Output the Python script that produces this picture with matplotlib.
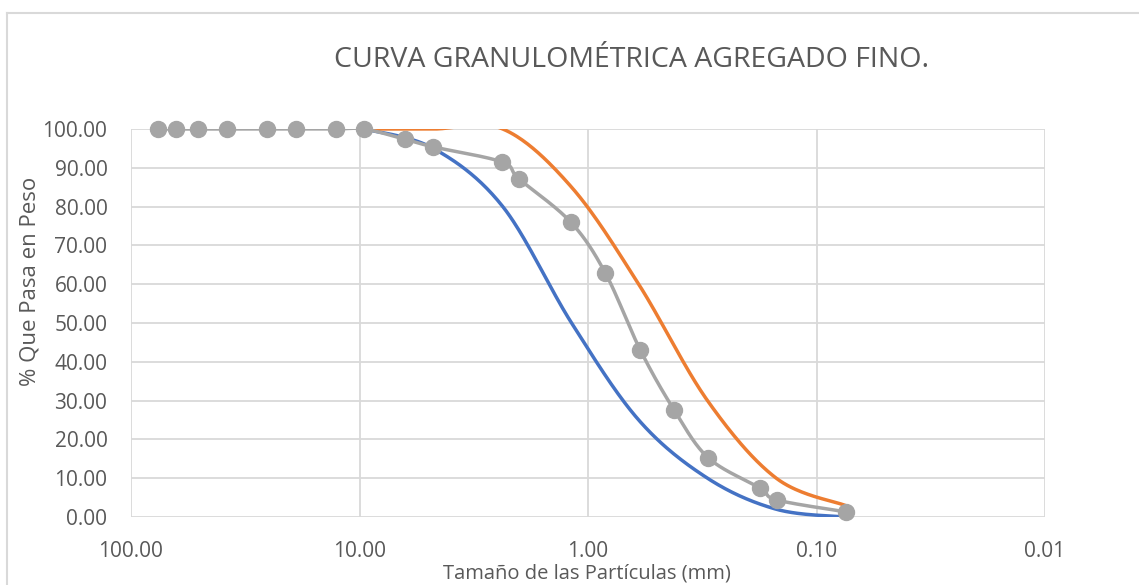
import matplotlib
matplotlib.use("Agg")
import matplotlib.pyplot as plt
from matplotlib.lines import Line2D
from matplotlib.ticker import FixedLocator, FuncFormatter, NullLocator
import numpy as np

# sieve openings (mm) and % passing for the sample
sizes = [76.2, 63.5, 50.8, 38.1, 25.4, 19.05, 12.7, 9.525, 6.35, 4.76,
         2.38, 2.0, 1.19, 0.84, 0.59, 0.42, 0.297, 0.177, 0.149, 0.074]
passing = [100, 100, 100, 100, 100, 100, 100, 100, 97.4, 95.4,
           91.5, 87.1, 76.0, 62.9, 43.0, 27.6, 15.2, 7.5, 4.4, 1.3]

# specification limits
lim_sizes = [9.5, 4.75, 2.36, 1.18, 0.6, 0.3, 0.15, 0.075]
lim_low = [100, 95, 80, 50, 25, 10, 2, 0]
lim_high = [100, 100, 100, 85, 60, 30, 10, 3]

xticks = [100, 10, 1, 0.1, 0.01]
yticks = [0, 10, 20, 30, 40, 50, 60, 70, 80, 90, 100]

FONT = ['Open Sans', 'DejaVu Sans']
TXT = '#595959'
GRID = '#d9d9d9'

PX_DEC = 229.0   # pixels per decade on x
PX_UNIT = 3.88   # pixels per % on y


def smooth(xs, ys, n=40):
    # excel-like smoothed line (bezier through points), done in screen space
    pts = np.column_stack([-np.log10(xs) * PX_DEC, np.asarray(ys, float) * PX_UNIT])
    P = np.vstack([pts[0], pts, pts[-1]])
    t = np.linspace(0, 1, n)[:, None]
    out = []
    for i in range(1, len(P) - 2):
        p0, p1, p2, p3 = P[i - 1], P[i], P[i + 1], P[i + 2]
        c1 = p1 + (p2 - p0) / 6
        c2 = p2 - (p3 - p1) / 6
        out.append((1 - t) ** 3 * p1 + 3 * (1 - t) ** 2 * t * c1
                   + 3 * (1 - t) * t ** 2 * c2 + t ** 3 * p2)
    out = np.vstack(out)
    return 10 ** (-out[:, 0] / PX_DEC), out[:, 1] / PX_UNIT


fig = plt.figure(figsize=(11.39, 5.85), dpi=100)
ax = fig.add_axes([131 / 1139, 1 - 517 / 585, (1045 - 131) / 1139, (517 - 129) / 585])

# chart area border
fig.add_artist(Line2D([7 / 1139, 1], [1 - 13 / 585] * 2, color=GRID, lw=1.5, transform=fig.transFigure))
fig.add_artist(Line2D([7 / 1139] * 2, [0, 1 - 13 / 585], color=GRID, lw=1.5, transform=fig.transFigure))

ax.set_xscale('log')
ax.set_xlim(100, 0.01)
ax.set_ylim(0, 100)

bx, by = smooth(lim_sizes, lim_low)
ax.plot(bx, by, color='#4472C4', lw=2.5, zorder=3)
ox, oy = smooth(lim_sizes, lim_high)
ax.plot(ox, oy, color='#ED7D31', lw=2.5, zorder=3)
gx, gy = smooth(sizes, passing)
ax.plot(gx, gy, color='#A5A5A5', lw=2.5, zorder=4)
ax.plot(sizes, passing, 'o', color='#A5A5A5', ms=11.5, clip_on=False, zorder=5)

ax.xaxis.set_major_locator(FixedLocator(xticks))
ax.xaxis.set_minor_locator(NullLocator())
ax.xaxis.set_major_formatter(FuncFormatter(lambda v, p: f'{v:.2f}'))
ax.yaxis.set_major_locator(FixedLocator(yticks))
ax.yaxis.set_major_formatter(FuncFormatter(lambda v, p: f'{v:.2f}'))

ax.grid(True, color=GRID, lw=1.3)
ax.set_axisbelow(True)
for s in ax.spines.values():
    s.set_visible(False)
ax.tick_params(length=0, labelsize=15, labelcolor=TXT)
ax.tick_params(axis='y', pad=17)
ax.tick_params(axis='x', pad=17)
for lab in ax.get_xticklabels() + ax.get_yticklabels():
    lab.set_family(FONT)

ax.set_xlabel('Tamaño de las Partículas (mm)', fontsize=14.5, color=TXT, family=FONT, va='center')
ax.set_ylabel('% Que Pasa en Peso', fontsize=16, color=TXT, family=FONT, va='center')
ax.xaxis.set_label_coords((587 - 131) / 914, (517 - 574) / 388)
ax.yaxis.set_label_coords((30 - 131) / 914, (517 - 281) / 388)

fig.text(632 / 1139, 1 - 60 / 585, 'CURVA GRANULOMÉTRICA AGREGADO FINO.', ha='center', va='center',
         fontsize=20.5, color=TXT, family=FONT)

fig.savefig('out.png', dpi=100)
